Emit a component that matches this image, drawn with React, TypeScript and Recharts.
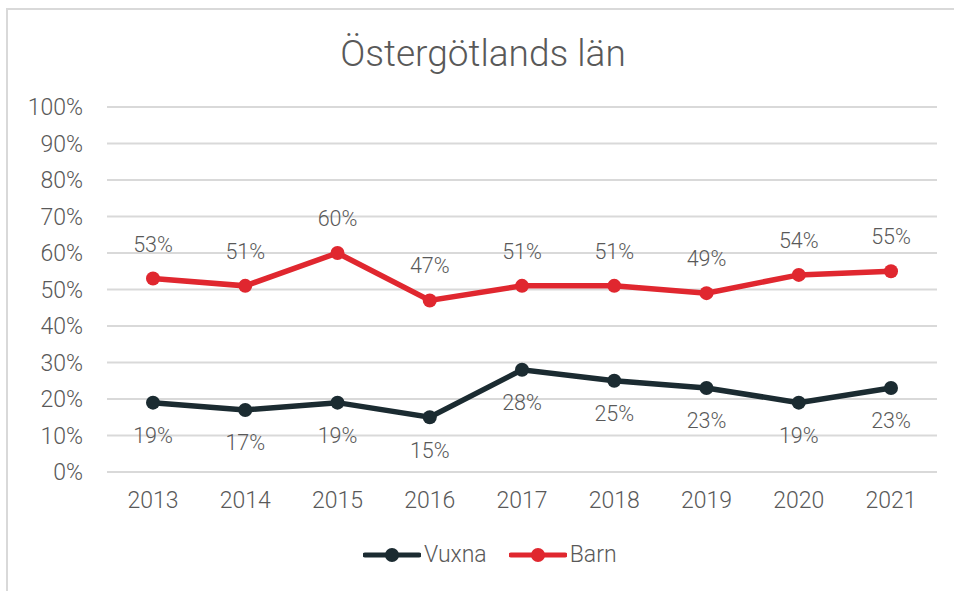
import React from 'react';
import { LineChart, Line, XAxis, YAxis, CartesianGrid, LabelList } from 'recharts';

const years = ['2013', '2014', '2015', '2016', '2017', '2018', '2019', '2020', '2021'];
const vuxna = [19, 17, 19, 15, 28, 25, 23, 19, 23];
const barn = [53, 51, 60, 47, 51, 51, 49, 54, 55];
const yTicks = [0, 10, 20, 30, 40, 50, 60, 70, 80, 90, 100];
const title = 'Östergötlands län';

const RED = '#e0272f';
const DARK = '#1b2b31';
const TEXT = '#595959';
const FONT = 'Roboto, "Liberation Sans", sans-serif';

const data = years.map((y, i) => ({ year: y, Vuxna: vuxna[i], Barn: barn[i] }));

const LegendItem = ({ color, label }: { color: string; label: string }) => (
  <div style={{ display: 'flex', alignItems: 'center', marginRight: 22 }}>
    <svg width={58} height={16}>
      <line x1={2} y1={8} x2={56} y2={8} stroke={color} strokeWidth={5} strokeLinecap="round" />
      <circle cx={29} cy={8} r={7} fill={color} />
    </svg>
    <span style={{ marginLeft: 3 }}>{label}</span>
  </div>
);

export default function App() {
  return (
    <div style={{ position: 'fixed', left: 0, top: 0, width: 954, height: 591, background: '#fff', overflow: 'hidden', fontFamily: FONT }}>
      <div style={{ position: 'absolute', left: 6, top: 8, width: 1000, height: 700, border: '2px solid #d9d9d9', boxSizing: 'border-box' }} />
      <div style={{ position: 'absolute', left: 0, width: 954, top: 30, textAlign: 'center', fontSize: 37, fontWeight: 300, color: TEXT, paddingLeft: 6, lineHeight: '48px' }}>
        {title}
      </div>
      <div style={{ position: 'absolute', left: 0, top: 0 }}>
        <LineChart width={954} height={591} data={data} margin={{ top: 107, right: 17, left: 0, bottom: 79 }}>
          <CartesianGrid vertical={false} stroke="#d9d9d9" strokeWidth={2} />
          <XAxis
            dataKey="year"
            axisLine={false}
            tickLine={false}
            tickMargin={14}
            height={40}
            padding={{ left: 46, right: 46 }}
            tick={{ fill: TEXT, fontSize: 23, fontFamily: FONT, fontWeight: 300 }}
          />
          <YAxis
            domain={[0, 100]}
            ticks={yTicks}
            interval={0}
            width={107}
            axisLine={false}
            tickLine={false}
            tickMargin={18}
            tickFormatter={(v: number) => `${v}%`}
            tick={{ fill: TEXT, fontSize: 23, fontFamily: FONT, fontWeight: 300 }}
          />
          <Line
            dataKey="Vuxna"
            stroke={DARK}
            strokeWidth={5.5}
            dot={{ r: 7, fill: DARK, stroke: DARK, strokeWidth: 0 }}
            isAnimationActive={false}
          >
            <LabelList
              dataKey="Vuxna"
              position="bottom"
              offset={25}
              formatter={(v: number) => `${v}%`}
              style={{ fill: TEXT, fontSize: 21.5, fontFamily: FONT, fontWeight: 300 }}
            />
          </Line>
          <Line
            dataKey="Barn"
            stroke={RED}
            strokeWidth={5.5}
            dot={{ r: 7, fill: RED, stroke: RED, strokeWidth: 0 }}
            isAnimationActive={false}
          >
            <LabelList
              dataKey="Barn"
              position="top"
              offset={27}
              formatter={(v: number) => `${v}%`}
              style={{ fill: TEXT, fontSize: 21.5, fontFamily: FONT, fontWeight: 300 }}
            />
          </Line>
        </LineChart>
      </div>
      <div style={{ position: 'absolute', left: 363, top: 540, display: 'flex', fontSize: 23, fontWeight: 300, color: TEXT, lineHeight: '30px' }}>
        <LegendItem color={DARK} label="Vuxna" />
        <LegendItem color={RED} label="Barn" />
      </div>
    </div>
  );
}
